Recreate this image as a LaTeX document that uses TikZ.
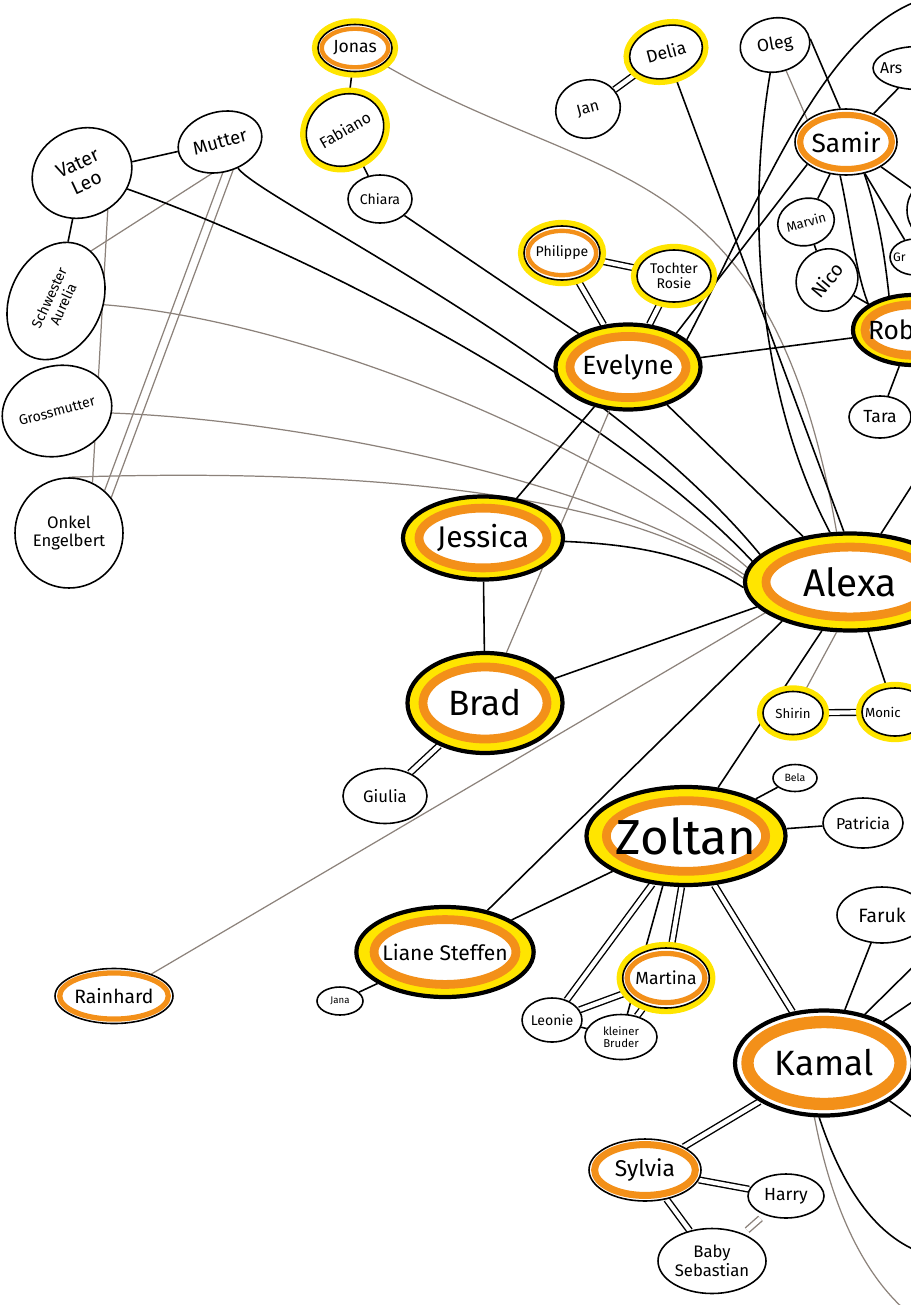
\documentclass[tikz,border=0pt]{standalone}
\usepackage{fontspec}
\setmainfont{Fira Sans}
\usetikzlibrary{shapes.geometric,calc,backgrounds}

\definecolor{hilite}{HTML}{FFE500}
\definecolor{marker}{HTML}{F39019}
\definecolor{pencil}{HTML}{8C827B}

\newcommand{\hand}[1]{\fontsize{#1}{\fpeval{1.1*#1}}\selectfont}
% name that runs off the right edge: starts #1 left of the node centre
\newcommand{\cutname}[2]{\makebox[0pt][l]{\hspace*{#1}#2}}

\tikzset{
  person/.style={ellipse, draw=black, line width=0.9pt, fill=white, inner sep=0pt, align=center, font=\hand{9}},
  sz/.style 2 args={minimum width={#1*0.02cm}, minimum height={#2*0.02cm}},
  glow/.style={preaction={draw=hilite, line width=7pt}},
  ring/.style 2 args={path picture={\draw[marker, line width=#1, fill=white] let \p1=(path picture bounding box.north east), \p2=(path picture bounding box.center) in (\p2) ellipse [x radius={#2*(\x1-\x2)}, y radius={(#2-0.08)*(\y1-\y2)}];}},
  core/.style={fill=hilite, line width=2.4pt, ring={5pt}{0.8}},
  tie/.style={line width=0.9pt},
  twin/.style={double distance=2.5pt, line width=0.8pt},
  faint/.style={draw=pencil, line width=0.7pt},
}

\begin{document}
\begin{tikzpicture}[x=0.02cm, y=-0.02cm]
\useasboundingbox (0,0) rectangle (910,1305);

% family on the left
\node[person, sz={102}{88}, rotate=25, font=\hand{11}] (vater) at (82,173) {Vater\\Leo};
\node[person, sz={85}{60}, rotate=15, font=\hand{10.5}] (mutter) at (220,142) {Mutter};
\node[person, sz={122}{92}, rotate=65, font=\hand{8}] (aurelia) at (56,301) {Schwester\\Aurelia};
\node[person, sz={100}{90}, rotate=15, font=\hand{8}] (grossmutter) at (57,411) {Grossmutter};
\node[person, sz={108}{110}, font=\hand{9.5}] (onkel) at (69,533) {Onkel\\Engelbert};
\node[person, ring={3pt}{0.92}, sz={118}{55}, font=\hand{11}] (rainhard) at (114,996) {Rainhard};

% top row
\node[person, glow, ring={2.5pt}{0.9}, sz={74}{47}, font=\hand{10}] (jonas) at (355,48) {Jonas};
\node[person, glow, sz={74}{70}, rotate=30, font=\hand{9}] (fabiano) at (345,130) {Fabiano};
\node[person, sz={64}{48}, font=\hand{8}] (chiara) at (380,199) {Chiara};
\node[person, sz={65}{58}, rotate=15, font=\hand{9}] (jan) at (588,109) {Jan};
\node[person, glow, sz={74}{52}, rotate=15, font=\hand{10}] (delia) at (666,52) {Delia};
\node[person, sz={70}{54}, rotate=10, font=\hand{10}] (oleg) at (775,45) {Oleg};
\node[person, sz={90}{43}, font=\hand{9}] (ars) at (918,68) {\cutname{-0.76cm}{Ars}};
\node[person, ring={3.5pt}{0.9}, sz={102}{66}, font=\hand{15}] (samir) at (846,142) {Samir};
\node[person, sz={57}{47}, rotate=15, font=\hand{7.5}] (marvin) at (806,222) {Marvin};
\node[person, sz={64}{60}, rotate=50, font=\hand{11}] (nico) at (827,280) {Nico};
\node[person, sz={70}{68}] (unk) at (942,210) {};
\node[person, sz={50}{36}, font=\hand{7}] (gr) at (915,257) {\cutname{-0.44cm}{Gr}};
\node[person, core, sz={120}{70}, font=\hand{15}] (rob) at (913,330) {\cutname{-0.9cm}{Rob}};
\node[person, sz={62}{42}, font=\hand{10}] (tara) at (880,417) {Tara};

% middle
\node[person, core, sz={145}{85}, font=\hand{15}] (evelyne) at (628,367) {Evelyne};
\node[person, glow, ring={2.5pt}{0.9}, sz={76}{54}, font=\hand{8}] (philippe) at (562,253) {Philippe};
\node[person, glow, sz={74}{52}, font=\hand{8}] (rosie) at (674,276) {Tochter\\Rosie};
\node[person, core, sz={160}{83}, font=\hand{17}] (jessica) at (483,538) {Jessica};
\node[person, core, sz={210}{97}, font=\hand{22}] (alexa) at (850,582) {Alexa};
\node[person, core, sz={155}{100}, font=\hand{20}] (brad) at (485,703) {Brad};
\node[person, sz={84}{55}, font=\hand{9.5}] (giulia) at (385,796) {Giulia};
\node[person, glow, sz={60}{43}, font=\hand{7.5}] (shirin) at (793,713) {Shirin};
\node[person, glow, sz={66}{48}, font=\hand{7.5}] (monica) at (895,712) {\cutname{-0.6cm}{Monic}};
\node[person, sz={44}{27}, font=\hand{6}] (bela) at (795,778) {Bela};
\node[person, sz={80}{50}, font=\hand{9}] (patricia) at (863,823) {Patricia};

% lower part
\node[person, core, sz={190}{98}, font=\hand{28}] (zoltan) at (686,836) {Zoltan};
\node[person, core, sz={150}{90}, font=\hand{12}] (liane) at (445,952) {Liane Steffen};
\node[person, sz={46}{28}, font=\hand{5.5}] (jana) at (340,1001) {Jana};
\node[person, glow, ring={3pt}{0.9}, sz={78}{60}, font=\hand{10}] (martina) at (666,978) {Martina};
\node[person, sz={56}{44}, font=\hand{8}] (leonie) at (552,1020) {Leonie};
\node[person, sz={72}{45}, font=\hand{6.5}] (bruder) at (621,1037) {kleiner\\Bruder};
\node[person, ring={7pt}{0.86}, line width=2.4pt, sz={178}{105}, font=\hand{20}] (kamal) at (824,1063) {Kamal};
\node[person, sz={90}{56}, font=\hand{11}] (faruk) at (882,915) {Faruk};
\node[person, ring={4pt}{0.9}, sz={112}{62}, font=\hand{13}] (sylvia) at (645,1170) {Sylvia};
\node[person, sz={76}{44}, font=\hand{10}] (harry) at (786,1196) {Harry};
\node[person, sz={108}{65}, font=\hand{9.5}] (sebastian) at (712,1261) {Baby\\Sebastian};

% loose ends past the right edge
\coordinate (arcend) at (915,2);
\coordinate (alexaout) at (925,465);
\coordinate (kamalne) at (930,950);
\coordinate (kamalee) at (930,990);
\coordinate (kamalse) at (930,1130);
\coordinate (kamalbow) at (915,1250);
\coordinate (kamaldown) at (905,1310);

\begin{scope}[on background layer]
% left family
\draw[tie] (vater) -- (mutter);
\draw[tie] (vater) -- (aurelia);
\draw[faint] (mutter.-120) -- (aurelia.-10);
\draw[faint] (mutter.-100) -- (onkel.50);
\draw[faint] (mutter.-80) -- (onkel.40);
\draw[faint] (vater.-80) -- (onkel.65);
\draw[tie] (vater) .. controls (300,250) and (600,400) .. (alexa.168);
\draw[tie] (mutter) .. controls (260,200) and (600,360) .. (alexa.163);
\draw[faint] (aurelia) .. controls (300,320) and (600,440) .. (alexa.172);
\draw[faint] (grossmutter) .. controls (300,420) and (600,480) .. (alexa.176);
\draw[faint] (onkel.north) .. controls (350,468) and (620,490) .. (alexa.178);
\draw[faint] (alexa.200) -- (rainhard);
% top row
\draw[tie] (jonas) -- (fabiano);
\draw[tie] (fabiano) -- (chiara);
\draw[tie] (chiara) -- (evelyne);
\draw[faint] (jonas) .. controls (600,190) and (770,150) .. (alexa.105);
\draw[twin] (jan) -- (delia);
\draw[tie] (delia) -- (alexa.97);
\draw[tie] (oleg) .. controls (745,220) and (760,400) .. (alexa.112);
\draw[faint] (oleg) -- (samir.150);
\draw[tie] (oleg.east) -- (samir.100);
\draw[tie] (samir) -- (ars);
\draw[tie] (samir) -- (unk);
\draw[tie] (samir) -- (gr);
\draw[tie] (samir) -- (marvin);
\draw[tie] (marvin) -- (nico);
\draw[tie] (nico) -- (rob);
\draw[tie] (samir.-100) .. controls (850,220) and (855,270) .. (rob.150);
\draw[tie] (samir.-60) .. controls (880,220) and (885,260) .. (rob.125);
\draw[tie] (rob) -- (tara);
% around Evelyne
\draw[twin] (evelyne) -- (philippe);
\draw[twin] (evelyne) -- (rosie);
\draw[twin] (philippe) -- (rosie);
\draw[tie] (evelyne.35) -- (samir.-150);
\draw[tie] (evelyne.25) .. controls (760,200) and (820,40) .. (arcend);
\draw[tie] (evelyne) -- (rob);
\draw[tie] (evelyne) -- (alexa);
\draw[tie] (evelyne) -- (jessica);
\draw[faint] (evelyne) -- (brad);
% around Alexa
\draw[tie] (jessica) .. controls (650,545) and (700,560) .. (alexa.183);
\draw[tie] (jessica) -- (brad);
\draw[tie] (brad) -- (alexa.195);
\draw[twin] (brad) -- (giulia);
\draw[tie] (alexa) -- (alexaout);
\draw[faint] (alexa.-105) -- (shirin);
\draw[tie] (alexa.-70) -- (monica);
\draw[twin] (shirin) -- (monica);
\draw[tie] (alexa.-120) -- (zoltan);
\draw[tie] (alexa.-150) -- (liane);
% around Zoltan
\draw[tie] (zoltan) -- (bela);
\draw[tie] (zoltan) -- (patricia);
\draw[tie] (zoltan) -- (liane);
\draw[tie] (liane) -- (jana);
\draw[twin] (zoltan.-125) -- (leonie);
\draw[tie] (zoltan.-115) -- (bruder);
\draw[twin] (zoltan.-95) -- (martina);
\draw[twin] (zoltan.-60) -- (kamal);
\draw[twin] (leonie) -- (martina);
\draw[tie] (leonie) -- (bruder);
\draw[twin] (martina) -- (bruder);
% around Kamal
\draw[tie] (kamal) -- (faruk);
\draw[tie] (kamal.50) -- (kamalne);
\draw[tie] (kamal.35) -- (kamalee);
\draw[tie] (kamal.-30) -- (kamalse);
\draw[tie] (kamal.-95) .. controls (840,1180) and (870,1230) .. (kamalbow);
\draw[faint] (kamal.-100) .. controls (830,1200) and (860,1270) .. (kamaldown);
\draw[twin] (kamal) -- (sylvia);
\draw[twin] (sylvia) -- (harry);
\draw[twin] (sylvia) -- (sebastian);
\draw[twin, draw=pencil, shorten <=3pt, shorten >=3pt] (harry) -- (sebastian);
\end{scope}
\end{tikzpicture}
\end{document}
